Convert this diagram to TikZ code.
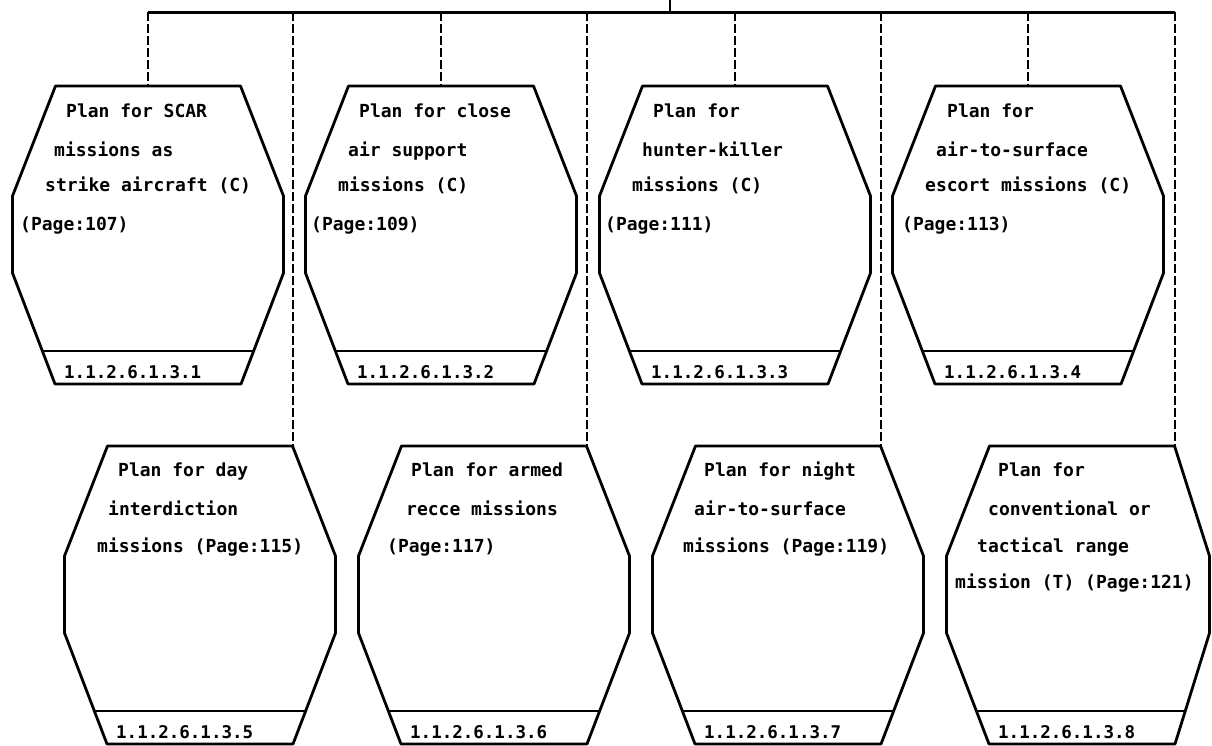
\documentclass[tikz,border=0pt]{standalone}
\usepackage{fontspec}
\newfontfamily\dotfont{DejaVu Sans Mono}
\usetikzlibrary{calc}
\tikzset{
  outline/.style={line width=2.8pt, line join=round},
  bus/.style={line width=3pt},
  link/.style={line width=1.6pt, dash pattern=on 9pt off 3pt},
  txt/.style={anchor=base west, inner sep=0pt, font=\dotfont\bfseries\fontsize{18}{20}\selectfont},
  numtxt/.style={anchor=base west, inner sep=0pt, font=\dotfont\bfseries\fontsize{17.5}{20}\selectfont},
}
% name, cx, y0, number, right half-width
\newcommand\PlanBox[5]{%
  \begin{scope}[shift={(#2,#3)}]
    \draw[outline] (-92.5,0) -- (92.5,0) -- (#5,110) -- (#5,187) -- (93,298)
      -- (-93,298) -- (-135.5,187) -- (-135.5,110) -- cycle;
    \draw[outline] (-105.6,265) -- ({105.6-(135.5-#5)*0.3},265);
    \coordinate (#1-top) at (0,0);
    \coordinate (#1-corner) at (93,0);
    \node[numtxt] (#1-num) at (-84,292) {#4};
  \end{scope}}
\begin{document}
\begin{tikzpicture}[x=1pt,y=-1pt]
\useasboundingbox (0,0) rectangle (1212,745);
% boxes
\PlanBox{b1}{148}{86}{1.1.2.6.1.3.1}{135.5}
\PlanBox{b2}{441}{86}{1.1.2.6.1.3.2}{135.5}
\PlanBox{b3}{735}{86}{1.1.2.6.1.3.3}{135.5}
\PlanBox{b4}{1028}{86}{1.1.2.6.1.3.4}{135.5}
\PlanBox{b5}{200}{446}{1.1.2.6.1.3.5}{135.5}
\PlanBox{b6}{494}{446}{1.1.2.6.1.3.6}{135.5}
\PlanBox{b7}{788}{446}{1.1.2.6.1.3.7}{135.5}
\PlanBox{b8}{1082}{446}{1.1.2.6.1.3.8}{127.5}
% texts
\node[txt] (b1-l1) at ($(b1-top)+(-82,31)$) {Plan for SCAR};
\node[txt] (b1-l2) at ($(b1-top)+(-94,70)$) {missions as};
\node[txt] (b1-l3) at ($(b1-top)+(-103,105)$) {strike aircraft (C)};
\node[txt] (b1-l4) at ($(b1-top)+(-128,144)$) {(Page:107)};
\node[txt] (b2-l1) at ($(b2-top)+(-82,31)$) {Plan for close};
\node[txt] (b2-l2) at ($(b2-top)+(-93,70)$) {air support};
\node[txt] (b2-l3) at ($(b2-top)+(-103,105)$) {missions (C)};
\node[txt] (b2-l4) at ($(b2-top)+(-130,144)$) {(Page:109)};
\node[txt] (b3-l1) at ($(b3-top)+(-82,31)$) {Plan for};
\node[txt] (b3-l2) at ($(b3-top)+(-93,70)$) {hunter-killer};
\node[txt] (b3-l3) at ($(b3-top)+(-103,105)$) {missions (C)};
\node[txt] (b3-l4) at ($(b3-top)+(-130,144)$) {(Page:111)};
\node[txt] (b4-l1) at ($(b4-top)+(-81,31)$) {Plan for};
\node[txt] (b4-l2) at ($(b4-top)+(-92,70)$) {air-to-surface};
\node[txt] (b4-l3) at ($(b4-top)+(-103,105)$) {escort missions (C)};
\node[txt] (b4-l4) at ($(b4-top)+(-126,144)$) {(Page:113)};
\node[txt] (b5-l1) at ($(b5-top)+(-82,30)$) {Plan for day};
\node[txt] (b5-l2) at ($(b5-top)+(-92,69)$) {interdiction};
\node[txt] (b5-l3) at ($(b5-top)+(-103,106)$) {missions (Page:115)};
\node[txt] (b6-l1) at ($(b6-top)+(-83,30)$) {Plan for armed};
\node[txt] (b6-l2) at ($(b6-top)+(-88,69)$) {recce missions};
\node[txt] (b6-l3) at ($(b6-top)+(-107,106)$) {(Page:117)};
\node[txt] (b7-l1) at ($(b7-top)+(-84,30)$) {Plan for night};
\node[txt] (b7-l2) at ($(b7-top)+(-94,69)$) {air-to-surface};
\node[txt] (b7-l3) at ($(b7-top)+(-105,106)$) {missions (Page:119)};
\node[txt] (b8-l1) at ($(b8-top)+(-84,30)$) {Plan for};
\node[txt] (b8-l2) at ($(b8-top)+(-94,69)$) {conventional or};
\node[txt] (b8-l3) at ($(b8-top)+(-105,106)$) {tactical range};
\node[txt] (b8-l4) at ($(b8-top)+(-127,142)$) {mission (T) (Page:121)};
% bus and connectors
\coordinate (parent) at (670,0);
\coordinate (parent-foot) at (670,12);
\draw[line width=1.6pt] (parent) -- (parent-foot);
\draw[bus] (b1-top |- parent-foot) -- (b8-corner |- parent-foot);
\foreach \b in {b1,b2,b3,b4}{
  \draw[link] (\b-top |- parent-foot) -- (\b-top);
}
\foreach \b in {b5,b6,b7,b8}{
  \draw[link] (\b-corner |- parent-foot) -- (\b-corner);
}
\end{tikzpicture}
\end{document}
